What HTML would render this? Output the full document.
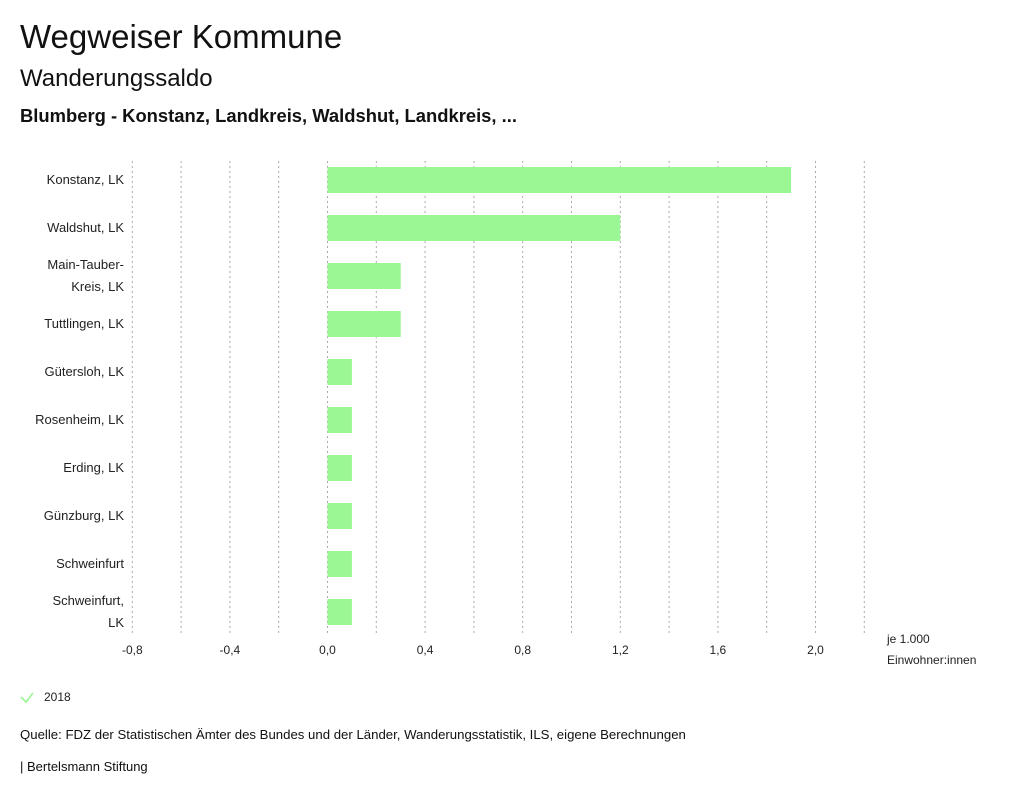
<!DOCTYPE html>
<html><head><meta charset="utf-8"><style>
body{margin:0;background:#fff;font-family:"Liberation Sans",sans-serif;color:#111;}
#wrap{position:relative;width:1024px;height:799px;overflow:hidden;}
.t{position:absolute;white-space:nowrap;}
</style></head><body><div id="wrap">
<div class="t" style="left:20px;top:18px;font-size:33px;">Wegweiser Kommune</div>
<div class="t" style="left:20px;top:65px;font-size:24px;">Wanderungssaldo</div>
<div class="t" style="left:20px;top:105px;font-size:18.4px;font-weight:bold;">Blumberg - Konstanz, Landkreis, Waldshut, Landkreis, ...</div>
<svg id="chart" width="1024" height="799" style="position:absolute;left:0;top:0;font-family:'Liberation Sans',sans-serif;"></svg>
<div class="t" style="left:20px;top:727px;font-size:13.2px;">Quelle: FDZ der Statistischen Ämter des Bundes und der Länder, Wanderungsstatistik, ILS, eigene Berechnungen</div>
<div class="t" style="left:20px;top:759px;font-size:13px;">| Bertelsmann Stiftung</div>
</div>
<script>
const categories=[["Konstanz, LK"],["Waldshut, LK"],["Main-Tauber-","Kreis, LK"],["Tuttlingen, LK"],["Gütersloh, LK"],["Rosenheim, LK"],["Erding, LK"],["Günzburg, LK"],["Schweinfurt"],["Schweinfurt,","LK"]];
const values2018=[1.9,1.2,0.3,0.3,0.1,0.1,0.1,0.1,0.1,0.1];
const ticks=[-0.8,-0.6,-0.4,-0.2,0,0.2,0.4,0.6,0.8,1.0,1.2,1.4,1.6,1.8,2.0,2.2];
const tickLabels=["-0,8","-0,4","0,0","0,4","0,8","1,2","1,6","2,0"];
const labelTicks=[-0.8,-0.4,0,0.4,0.8,1.2,1.6,2.0];
const NS="http://www.w3.org/2000/svg",svg=document.getElementById('chart');
const xs=v=>327.5+v*244, plotTop=161, plotBottom=635, band=48, y0=156;
function mk(t,a){const e=document.createElementNS(NS,t);for(const k in a)e.setAttribute(k,a[k]);svg.appendChild(e);return e;}
ticks.forEach(t=>{const l=mk('line',{x1:xs(t),x2:xs(t),y1:plotTop,y2:plotBottom,stroke:'#aaa','stroke-dasharray':'2,3'});

});
labelTicks.forEach((t,i)=>{const e=mk('text',{x:xs(t),y:654,'text-anchor':'middle','font-size':12,fill:'#222'});e.textContent=tickLabels[i];

});
values2018.forEach((v,i)=>{const cy=y0+band*i+24;
const r=mk('rect',{x:Math.min(xs(0),xs(v)),y:cy-13,width:Math.abs(xs(v)-xs(0)),height:26,fill:'#9af794'});


const lines=categories[i];lines.forEach((s,j)=>{const ty=cy+4+(j-(lines.length-1)/2)*22;
const e=mk('text',{x:124,y:ty,'text-anchor':'end','font-size':13,fill:'#222'});e.textContent=s;

});});
const u1=mk('text',{x:887,y:643,'font-size':12,fill:'#222'});u1.textContent='je 1.000';


const u2=mk('text',{x:887,y:664,'font-size':12,fill:'#222'});u2.textContent='Einwohner:innen';


const chk=mk('path',{d:'M21 697 L26 702 L33 693',stroke:'#9af794','stroke-width':1.6,fill:'none'});


const lg=mk('text',{x:44,y:701,'font-size':12,fill:'#222'});lg.textContent='2018';


</script></body></html>
